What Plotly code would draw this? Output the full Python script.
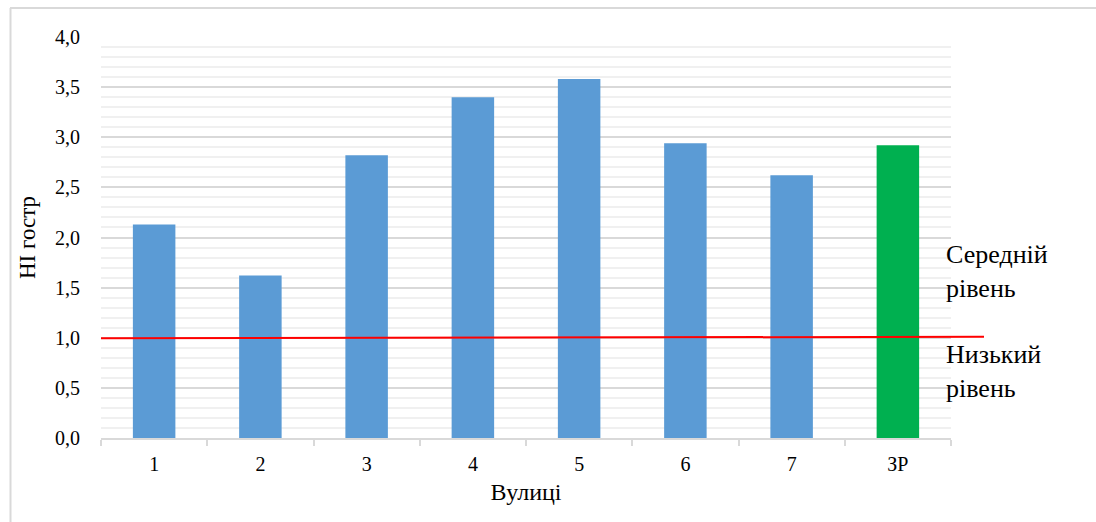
import plotly.graph_objects as go

# Streets and their HI values
streets = ["1", "2", "3", "4", "5", "6", "7", "ЗР"]
hi_values = [2.13, 1.62, 2.82, 3.40, 3.58, 2.94, 2.62, 2.92]
bar_colors = ["#5B9BD5"] * 7 + ["#00B050"]

# Boundary between low and medium level (drawn slightly tilted)
threshold_start = 0.995
threshold_end = 1.01

W, H = 1096, 522
L, R, T, B = 101, 145, 37, 84
pw, ph = W - L - R, H - T - B


def px_x(p):
    return (p - L) / pw


def px_y(q):
    return (H - B - q) / ph


font_family = "Times New Roman, Liberation Serif, DejaVu Serif, serif"

fig = go.Figure(
    go.Bar(
        x=streets,
        y=hi_values,
        marker=dict(color=bar_colors, line=dict(width=0)),
        width=0.4,
    )
)

shapes = [
    # threshold line, running past the plot area on the right
    dict(type="line", xref="paper", yref="y",
         x0=0, x1=px_x(984), y0=threshold_start, y1=threshold_end,
         line=dict(color="#FF0000", width=2)),
    # frame edges (top and left)
    dict(type="line", xref="paper", yref="paper",
         x0=px_x(10), x1=px_x(1100), y0=px_y(8), y1=px_y(8),
         line=dict(color="#D9D9D9", width=2)),
    dict(type="line", xref="paper", yref="paper",
         x0=px_x(10.5), x1=px_x(10.5), y0=px_y(8), y1=px_y(530),
         line=dict(color="#D9D9D9", width=2)),
]

annotations = [
    dict(text="Середній<br>рівень", xref="paper", yref="paper",
         x=px_x(944), y=px_y(271), xanchor="left", yanchor="middle",
         showarrow=False, align="left",
         font=dict(family=font_family, size=26, color="#000000")),
    dict(text="Низький<br>рівень", xref="paper", yref="paper",
         x=px_x(944), y=px_y(371), xanchor="left", yanchor="middle",
         showarrow=False, align="left",
         font=dict(family=font_family, size=26, color="#000000")),
]

fig.update_layout(
    width=W, height=H,
    margin=dict(l=L, r=R, t=T, b=B, pad=0),
    paper_bgcolor="#FFFFFF",
    plot_bgcolor="#FFFFFF",
    separators=", ",
    showlegend=False,
    shapes=shapes,
    annotations=annotations,
    font=dict(family=font_family, size=20, color="#000000"),
    xaxis=dict(
        title=dict(text="Вулиці", font=dict(family=font_family, size=24), standoff=9),
        showline=True, linecolor="#D9D9D9", linewidth=2,
        ticks="outside", tickson="boundaries", ticklen=6, tickcolor="#D9D9D9", tickwidth=2,
        ticklabelstandoff=7,
        showgrid=False,
        tickfont=dict(family=font_family, size=20, color="#000000"),
    ),
    yaxis=dict(
        title=dict(text="HI гостр", font=dict(family=font_family, size=23), standoff=12),
        range=[0, 4.0],
        dtick=0.5,
        tickformat=".1f",
        showgrid=True, gridcolor="#D9D9D9", gridwidth=2,
        minor=dict(dtick=0.1, showgrid=True, gridcolor="#F0F0F0", gridwidth=2),
        zeroline=False,
        showline=False,
        ticks="",
        ticklabelstandoff=20,
        tickfont=dict(family=font_family, size=20, color="#000000"),
    ),
)

fig.write_html("out.html")
